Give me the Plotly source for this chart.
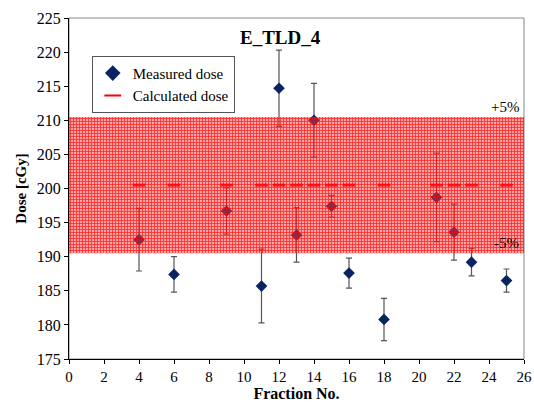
import plotly.graph_objects as go

fractions = [4, 6, 9, 11, 12, 13, 14, 15, 16, 18, 21, 22, 23, 25]
measured = [192.5, 187.4, 196.7, 185.7, 214.7, 193.2, 210.0, 197.4, 187.6, 180.8, 198.7, 193.6, 189.2, 186.5]
errors = [4.6, 2.6, 3.4, 5.4, 5.6, 4.0, 5.4, 1.6, 2.2, 3.1, 6.5, 4.1, 2.0, 1.7]
calculated = [200.5] * len(fractions)
band_low, band_high = 190.5, 210.5
x_range = [0, 26]

serif = "Liberation Serif"

fig = go.Figure()

fig.add_trace(go.Scatter(
    x=fractions, y=measured, mode="markers", name="Measured dose",
    marker=dict(symbol="diamond", size=9, color="#0a2463"),
    error_y=dict(type="data", array=errors, visible=True, color="#555555", thickness=1.2, width=3),
))
fig.add_trace(go.Scatter(
    x=fractions, y=calculated, mode="markers", name="Calculated dose",
    marker=dict(symbol="line-ew", size=9, line=dict(color="#ff0000", width=3)),
))
# tolerance band drawn on top
fig.add_trace(go.Scatter(
    x=[x_range[0], x_range[1], x_range[1], x_range[0], x_range[0]],
    y=[band_low, band_low, band_high, band_high, band_low],
    mode="lines", fill="toself", line=dict(width=0), showlegend=False, hoverinfo="skip",
    fillcolor="rgba(255,60,60,0.45)",
    fillpattern=dict(shape="+", size=3, solidity=0.5, fgcolor="rgba(255,0,0,0.7)",
                     bgcolor="rgba(255,60,60,0.45)", fillmode="replace"),
))

fig.update_layout(
    width=534, height=402,
    margin=dict(l=69, r=10, t=18, b=43),
    paper_bgcolor="white", plot_bgcolor="white",
    font=dict(family=serif, size=15, color="black"),
    showlegend=True,
    legend=dict(x=0.05, y=0.889, xanchor="left", yanchor="top",
                bgcolor="white", bordercolor="#555555", borderwidth=1,
                font=dict(family=serif, size=15), itemsizing="constant", itemwidth=30,
                tracegroupgap=0),
    xaxis=dict(range=x_range, tickmode="array", tickvals=list(range(0, 27, 2)),
               showgrid=False, zeroline=False, showline=True, linecolor="black", linewidth=1,
               ticks="outside", ticklen=4, tickcolor="black", automargin=False,
               tickfont=dict(family=serif, size=15),
               title=dict(text="<b>Fraction No.</b>", font=dict(family=serif, size=16), standoff=4)),
    yaxis=dict(range=[175, 225], tickmode="array", tickvals=list(range(175, 226, 5)),
               showgrid=False, zeroline=False, showline=True, linecolor="black", linewidth=1,
               ticks="outside", ticklen=4, tickcolor="black", automargin=False,
               tickfont=dict(family=serif, size=16),
               title=dict(text="<b>Dose [cGy]</b>", font=dict(family=serif, size=15), standoff=6)),
    shapes=[dict(type="rect", xref="x domain", yref="y domain", x0=0, x1=1, y0=0, y1=1,
                 line=dict(color="#888888", width=1), layer="below")],
    annotations=[
        dict(text="<b>E_TLD_4</b>", x=12.1, y=222.1, xref="x", yref="y", showarrow=False,
             font=dict(family=serif, size=19), xanchor="center", yanchor="middle"),
        dict(text="+5%", x=25.8, y=band_high, xref="x", yref="y", showarrow=False,
             font=dict(family=serif, size=15), xanchor="right", yanchor="bottom"),
        dict(text="-5%", x=25.8, y=band_low, xref="x", yref="y", showarrow=False,
             font=dict(family=serif, size=15), xanchor="right", yanchor="bottom"),
    ],
)

fig.write_html("out.html", config={"displayModeBar": False},
               post_script="document.body.style.margin='0px';")
